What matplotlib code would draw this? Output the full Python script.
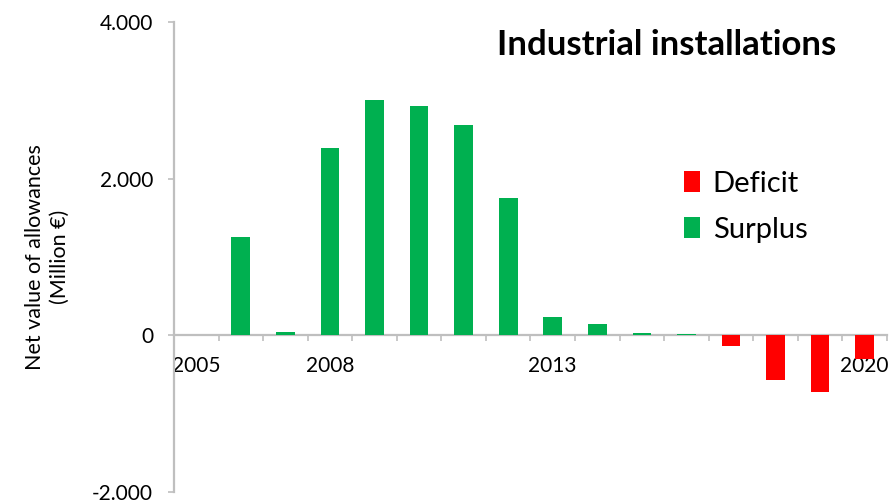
import matplotlib.pyplot as plt
import numpy as np
from matplotlib.patches import Patch

years = list(range(2005, 2021))
net_value = [0, 1250, 40, 2390, 3010, 2930, 2690, 1750, 240, 142, 30, 15,
             -137, -573, -729, -307]
shown_years = [2005, 2008, 2013, 2020]

green = "#00B050"
red = "#FF0000"
grey = "#BFBFBF"

plt.rcParams["font.family"] = ["Lato", "DejaVu Sans"]

fig = plt.figure(figsize=(8.95, 5.03), dpi=100)
ax = fig.add_axes([0.1944, 0.022, 0.7966, 0.934])

x = np.arange(len(years))
colors = [green if v >= 0 else red for v in net_value]
ax.bar(x, net_value, width=0.42, color=colors, linewidth=0, zorder=4)

ax.set_xlim(-0.5, len(years) - 0.5)
ax.set_ylim(-2000, 4000)

# axis lines: y on the left, x through zero
for s in ["top", "right"]:
    ax.spines[s].set_visible(False)
ax.spines["bottom"].set_position(("data", 0))
ax.spines["bottom"].set_zorder(3)
for s in ["left", "bottom"]:
    ax.spines[s].set_color(grey)
    ax.spines[s].set_linewidth(1.6)

ax.set_yticks([-2000, 0, 2000, 4000])
ax.set_yticklabels(["-2.000", "0", "2.000", "4.000"])
ax.tick_params(axis="y", direction="out", length=4, width=1.2, color=grey,
               pad=11, labelsize=15)

ax.set_xticks([years.index(y) for y in shown_years])
ax.set_xticklabels([str(y) for y in shown_years])
ax.set_xticks(np.arange(0.5, len(years), 1.0), minor=True)
ax.tick_params(axis="x", which="major", length=0, pad=15, labelsize=15)
ax.tick_params(axis="x", which="minor", direction="out", length=4, width=1.2, color=grey)

ax.set_ylabel("Net value of allowances\n(Million €)", fontsize=15.5, labelpad=16,
              linespacing=1.3)

ax.text(0.929, 0.985, "Industrial installations", transform=ax.transAxes,
        fontsize=25, fontweight="bold", ha="right", va="top")

handles = [Patch(facecolor=red, label="Deficit"),
           Patch(facecolor=green, label="Surplus")]
ax.legend(handles=handles, loc="upper left", bbox_to_anchor=(0.678, 0.74),
          frameon=False, fontsize=21, handlelength=0.55, handleheight=0.75,
          handletextpad=0.45, labelspacing=0.7)

fig.savefig("out.png", dpi=100)
